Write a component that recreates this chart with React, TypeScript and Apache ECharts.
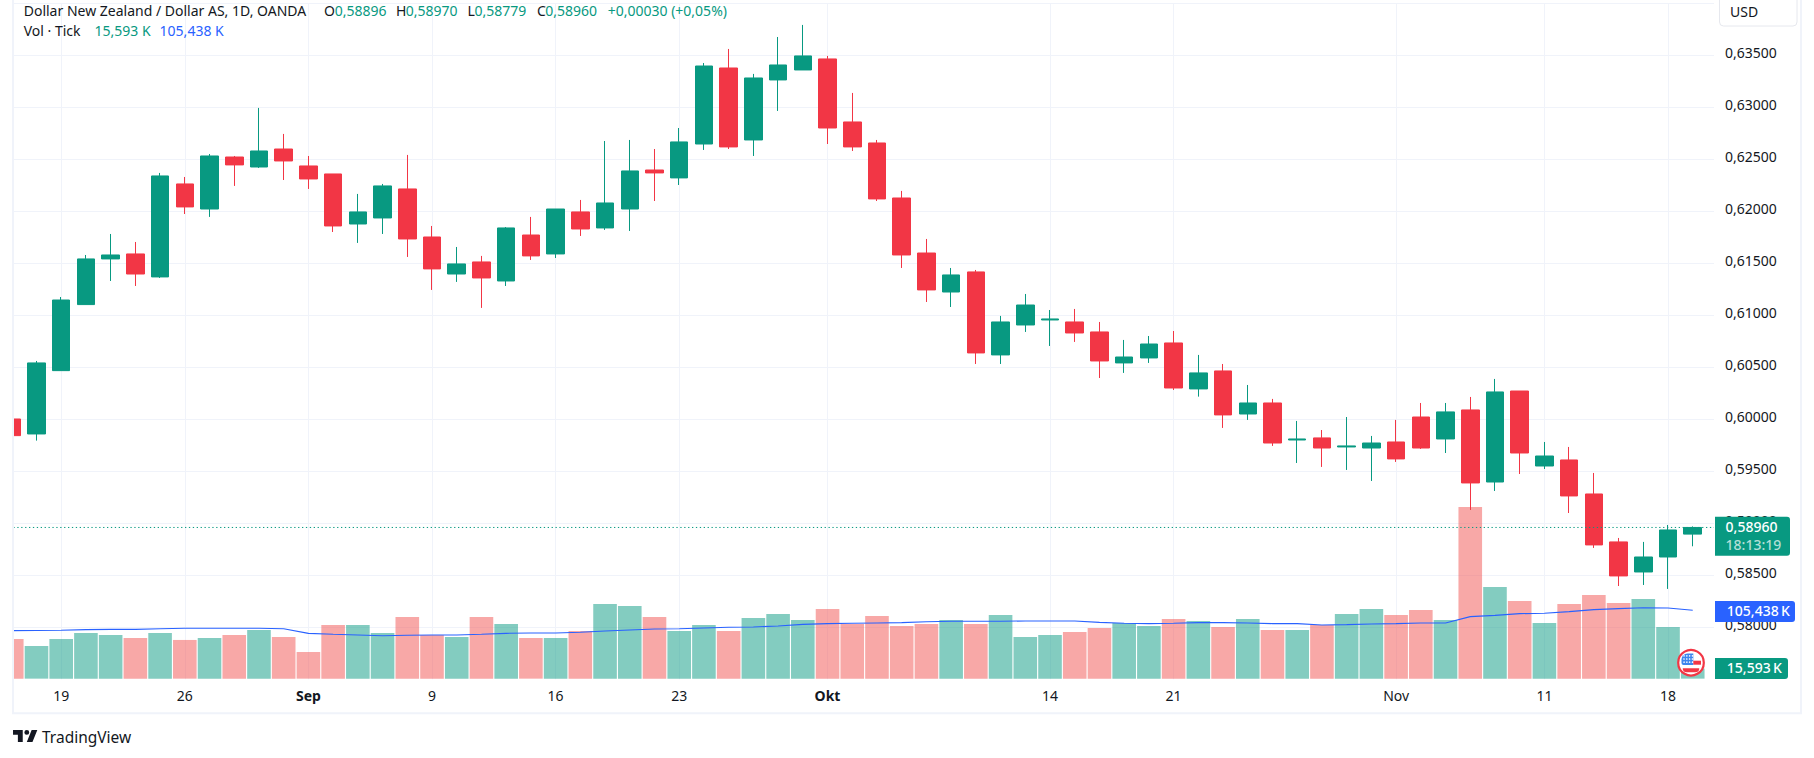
import React, { useEffect, useRef } from "react";
import * as echarts from "echarts";

const opens = [.60003,.59859,.60468,.61103,.61542,.61590,.61369,.62263,.62022,.62522,.62426,.62599,.62436,.62359,.61878,.61936,.62215,.61753,.61397,.61513,.61330,.61772,.61590,.61994,.61840,.62022,.62397,.62321,.62647,.63378,.62686,.63263,.63359,.63465,.62859,.62657,.62128,.61599,.61224,.61417,.60619,.60907,.60955,.60936,.60840,.60542,.60590,.60734,.60292,.60465,.60051,.60157,.59801,.59821,.59734,.59724,.59782,.60022,.59811,.60090,.59397,.60272,.59551,.59609,.59282,.58821,.58532,.58676,.58896];
const closes = [.59843,.60542,.61147,.61542,.61580,.61397,.62340,.62042,.62532,.62446,.62580,.62484,.62311,.61859,.61994,.62244,.61734,.61446,.61494,.61359,.61840,.61571,.62022,.61830,.62080,.62388,.62369,.62667,.63397,.62619,.63282,.63407,.63494,.62801,.62619,.62119,.61580,.61244,.61388,.60638,.60936,.61099,.60965,.60830,.60561,.60599,.60724,.60301,.60446,.60042,.60157,.59772,.59811,.59724,.59744,.59772,.59619,.59724,.60071,.59388,.60263,.59676,.59647,.59263,.58792,.58494,.58676,.58936,.58960];
const highs = [.60003,.60561,.61176,.61580,.61782,.61705,.62369,.62330,.62551,.62532,.62994,.62744,.62532,.62359,.62167,.62263,.62542,.61859,.61657,.61571,.61849,.61946,.62022,.62109,.62676,.62686,.62599,.62801,.63426,.63561,.63321,.63676,.63792,.63494,.63138,.62686,.62196,.61734,.61455,.61436,.60994,.61205,.61051,.61061,.60936,.60763,.60801,.60849,.60619,.60532,.60330,.60196,.59984,.59897,.60022,.59840,.59994,.60157,.60157,.60215,.60388,.60272,.59782,.59734,.59484,.58859,.58821,.58984,.58970];
const lows = [.59843,.59795,.60468,.61103,.61330,.61282,.61359,.61974,.61946,.62244,.62417,.62301,.62215,.61801,.61696,.61782,.61561,.61244,.61321,.61071,.61282,.61532,.61551,.61763,.61821,.61811,.62099,.62253,.62590,.62599,.62532,.62965,.63359,.62647,.62580,.62099,.61455,.61128,.61080,.60532,.60532,.60840,.60705,.60744,.60397,.60446,.60542,.60282,.60218,.59917,.59994,.59744,.59580,.59542,.59513,.59407,.59590,.59715,.59676,.59128,.59311,.59474,.59522,.59099,.58763,.58397,.58407,.58369,.58779];
const volumes = [61.2,50.4,61.2,70.5,67.4,62.7,70.5,59.7,62.7,67.4,75.1,64.3,41.1,82.8,82.8,70.5,95.1,67.4,64.3,95.1,84.3,62.7,62.7,73.5,115.2,112.1,95.1,73.5,82.8,73.5,93.6,99.8,90.5,107.5,84.3,96.7,81.3,84.3,90.5,84.3,98.2,64.3,67.4,72,78.2,85.9,81.3,92.1,89,79.7,92.1,75.1,75.1,82.8,99.8,107.5,98.2,105.9,90.5,264.9,141.4,119.8,85.9,115.2,129.1,116.7,122.9,79.7,15.593];
const volumeMA = [74.1,74.3,74.6,75.6,76.1,76.1,76.9,77.7,77.7,77.7,77.7,77.1,69.9,68.4,67.4,66.3,66.9,67.4,67.4,68.4,69.9,70.5,70.5,71.5,73.5,75.1,76.6,77.1,78.2,79.2,79.7,81.3,83.8,84.9,85.4,85.9,86.4,87.9,88.5,88.5,88.5,89,89,89,86.9,85.4,84.9,85.4,86.4,86.4,85.9,84.9,84.9,82.8,83.3,84.3,84.9,85.9,85.9,95.7,97.7,100.3,100.8,103.4,106.5,108,109.5,109,105.438];
const tickIndexes = [2,7,12,17,22,27,33,42,47,56,62,67];
const tickLabels = ["19","26","Sep","9","16","23","Okt","14","21","Nov","11","18"];
const boldLabels = ["Sep","Okt"];
const lastPrice = 0.5896;
const xMin = 0.066;
const xMax = 68.86;

const UP = "#089981";
const DOWN = "#F23645";
const FONT = "'Noto Sans', sans-serif";
const INK = "#131722";

echarts.graphic.registerShape(
  "tvlogo",
  echarts.graphic.extendPath("M14 6H2v6h6v9h6V6Zm12 15h-7l6-15h7l-6 15Zm-7-9a3 3 0 1 0 0-6 3 3 0 0 0 0 6Z", {}) as any
);

const txt = (x: number, y: number, text: string, fill: string, fontSize = 14, z = 60, fontWeight: any = 400) => ({
  type: "text", x, y, z, silent: true,
  style: { text, fill, font: `${fontWeight} ${fontSize}px ${FONT}`, textVerticalAlign: "middle", verticalAlign: "middle", align: "left" },
});
const box = (x: number, y: number, w: number, h: number, fill: string) => ({
  type: "rect", x, y, z: 50, silent: true,
  shape: { x: 0, y: 0, width: w, height: h, r: [0, 3, 3, 0] },
  style: { fill },
});
const cantonDots: any[] = [];
for (let r = 0; r < 3; r++) {
  for (let c = 0; c < 4; c++) {
    cantonDots.push({
      type: "circle", z: 62, silent: true,
      shape: { cx: 1684 + c * 2.8, cy: 655.8 + r * 3.2, r: 0.75 },
      style: { fill: "#ffffff" },
    });
  }
}

export default function App() {
  const ref = useRef<HTMLDivElement>(null);
  useEffect(() => {
    const chart = echarts.init(ref.current!, undefined, { renderer: "svg" });
    const option: any = {
      animation: false,
      backgroundColor: "#ffffff",
      textStyle: { fontFamily: FONT },
      grid: { left: 13.4, top: 3.3, width: 1700.6, height: 676, containLabel: false },
      xAxis: {
        type: "value", min: xMin, max: xMax,
        axisLine: { show: false },
        axisTick: { show: false, customValues: tickIndexes },
        splitLine: { show: true, lineStyle: { color: "#f0f3fa", width: 1 } },
        axisLabel: {
          customValues: tickIndexes, margin: 9, color: INK, fontSize: 14, fontFamily: FONT,
          formatter: (v: number) => {
            const s = tickLabels[tickIndexes.indexOf(Math.round(v))] ?? "";
            return boldLabels.includes(s) ? `{b|${s}}` : s;
          },
          rich: { b: { fontWeight: 700, fontSize: 14, color: INK, fontFamily: FONT } },
        },
      },
      yAxis: [
        {
          type: "value", position: "right", min: 0.575, max: 0.64, interval: 0.005, scale: true,
          axisLine: { show: false }, axisTick: { show: false },
          splitLine: { show: true, showMinLine: false, lineStyle: { color: "#f0f3fa", width: 1 } },
          axisLabel: {
            margin: 11, color: INK, fontSize: 14, fontFamily: FONT, showMinLabel: false, showMaxLabel: false,
            verticalAlign: "bottom", lineHeight: 5,
            formatter: (v: number) => v.toFixed(5).replace(".", ","),
          },
        },
        { type: "value", min: -1, max: 1042, show: false, splitLine: { show: false } },
      ],
      series: [
        {
          type: "bar", yAxisIndex: 1, z: 2, barWidth: 23.6,
          data: volumes.map((v, i) => ({
            value: [i, v],
            itemStyle: { color: closes[i] >= opens[i] ? "rgba(8,153,129,0.5)" : "rgba(242,82,80,0.5)" },
          })),
        },
        {
          type: "line", yAxisIndex: 1, z: 4, symbol: "none", showSymbol: false,
          lineStyle: { color: "#2962FF", width: 1.1 },
          data: volumeMA.map((v, i) => [i, v]),
        },
        {
          type: "candlestick", yAxisIndex: 0, z: 3, barWidth: 18,
          encode: { x: 0, y: [1, 2, 3, 4] },
          itemStyle: { color: UP, color0: DOWN, borderColor: UP, borderColor0: DOWN, borderWidth: 1 },
          data: opens.map((o, i) => [i, o, closes[i], lows[i], highs[i]]),
        },
        {
          type: "line", yAxisIndex: 0, z: 5, symbol: "none", showSymbol: false,
          lineStyle: { color: UP, type: [1.3, 2.6], width: 1 },
          data: [[xMin, lastPrice], [xMax, lastPrice]],
        },
      ],
      graphic: { elements: [
        { type: "rect", z: 30, silent: true, shape: { x: 0, y: 0, width: 12.5, height: 758 }, style: { fill: "#ffffff" } },
        { type: "polyline", z: 40, silent: true, shape: { points: [[13, 0], [13, 713.3], [1801, 713.3], [1801, 0]] }, style: { stroke: "#f0f3fa", lineWidth: 2, fill: "none" } },
        txt(23.7, 10, "Dollar New Zealand / Dollar AS, 1D, OANDA", INK),
        txt(324, 10, "O", INK), txt(334.8, 10, "0,58896", UP),
        txt(396, 10, "H", INK), txt(405.7, 10, "0,58970", UP),
        txt(467.6, 10, "L", INK), txt(474.5, 10, "0,58779", UP),
        txt(536.9, 10, "C", INK), txt(545.3, 10, "0,58960", UP),
        txt(607.7, 10, "+0,00030 (+0,05%)", UP),
        txt(23.7, 30.7, "Vol · Tick", INK),
        txt(94.5, 30.7, "15,593 K", UP),
        txt(159.6, 30.7, "105,438 K", "#2962FF"),
        { type: "rect", z: 50, silent: true, shape: { x: 1719.5, y: -6, width: 77.5, height: 32, r: 4 }, style: { fill: "#fff", stroke: "#e6e8ee", lineWidth: 1 } },
        txt(1730, 11, "USD", INK),
        box(1715, 516.7, 75, 39, UP),
        txt(1725.6, 526.7, "0,58960", "#ffffff", 14, 60, 500),
        txt(1725.6, 544.7, "18:13:19", "rgba(255,255,255,0.7)", 14, 60, 500),
        box(1715, 601, 80, 21, "#2962FF"),
        txt(1726.8, 610.7, "105,438\u2009K", "#ffffff", 14, 60, 500),
        box(1715, 658, 73, 21, UP),
        txt(1726.8, 667.7, "15,593\u2009K", "#ffffff", 14, 60, 500),
        { type: "tvlogo", x: 11.4, y: 725.1, scaleX: 0.81, scaleY: 0.81, z: 60, silent: true, style: { fill: INK } },
        txt(42, 736.7, "TradingView", INK, 15.5),
        { type: "circle", z: 60, silent: true, shape: { cx: 1691, cy: 662.7, r: 12.8 }, style: { fill: "#ffffff", stroke: "#F23645", lineWidth: 2.2 } },
        { type: "rect", z: 61, silent: true, shape: { x: 1681.5, y: 653.5, width: 11.8, height: 11.5, r: [6, 0, 0, 2] }, style: { fill: "#3d86ee" } },
        { type: "rect", z: 61, silent: true, shape: { x: 1693.3, y: 660.7, width: 7.7, height: 4 }, style: { fill: "#F23645" } },
        { type: "rect", z: 61, silent: true, shape: { x: 1682.7, y: 668.3, width: 16.6, height: 4, r: [0, 0, 4, 4] }, style: { fill: "#F23645" } },
        ...cantonDots,
      ] },
    };
    chart.setOption(option);
    return () => chart.dispose();
  }, []);
  return <div ref={ref} style={{ position: "absolute", left: 0, top: 0, width: 1814, height: 758, background: "#fff" }} />;
}
